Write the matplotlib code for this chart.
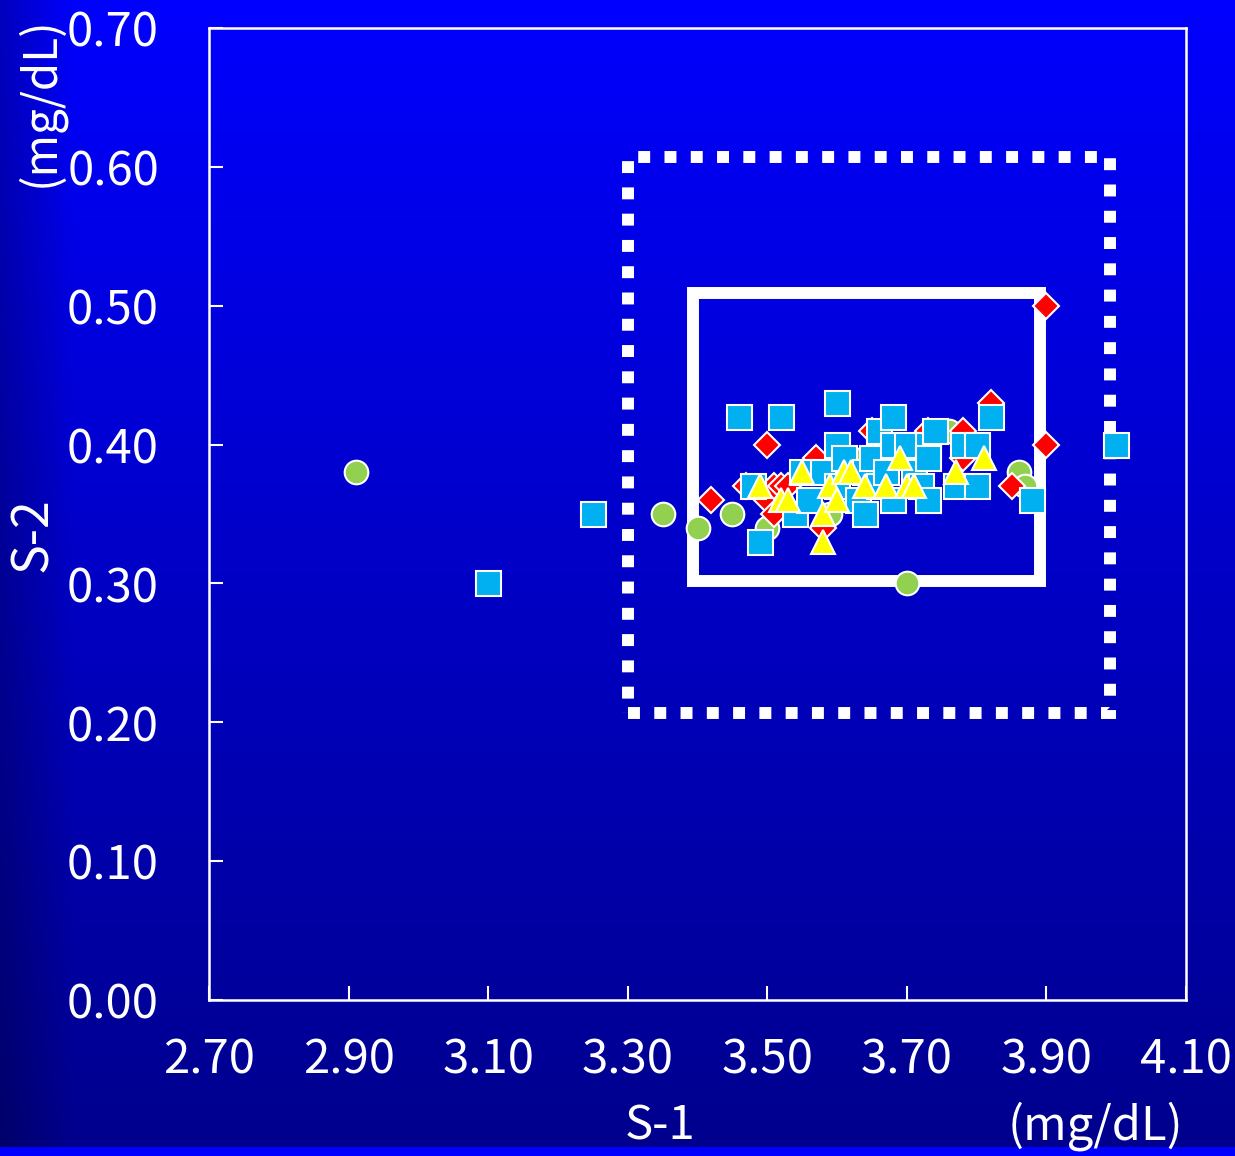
import numpy as np
import matplotlib
matplotlib.use("Agg")
import matplotlib.pyplot as plt
from matplotlib.patches import Rectangle

plt.rcParams['font.family'] = ['Noto Sans CJK JP', 'DejaVu Sans']

# data (S-1, S-2 in mg/dL)
green_x = [2.91, 3.35, 3.40, 3.45, 3.50, 3.59, 3.64, 3.70, 3.76, 3.86, 3.87]
green_y = [0.38, 0.35, 0.34, 0.35, 0.34, 0.35, 0.39, 0.30, 0.41, 0.38, 0.37]

red_x = [3.42, 3.47, 3.50, 3.50, 3.51, 3.51, 3.52, 3.53, 3.57, 3.58, 3.65,
         3.73, 3.78, 3.78, 3.82, 3.85, 3.90, 3.90]
red_y = [0.36, 0.37, 0.40, 0.36, 0.37, 0.35, 0.37, 0.37, 0.39, 0.34, 0.41,
         0.41, 0.41, 0.39, 0.43, 0.37, 0.50, 0.40]

cyan_x = [3.10, 3.25, 3.46, 3.48, 3.49, 3.52, 3.54, 3.55, 3.56, 3.58, 3.60,
          3.60, 3.60, 3.61, 3.63, 3.64, 3.64, 3.65, 3.66, 3.66, 3.67, 3.68,
          3.68, 3.68, 3.70, 3.71, 3.72, 3.73, 3.73, 3.73, 3.74, 3.77, 3.78,
          3.80, 3.80, 3.82, 3.88, 4.00]
cyan_y = [0.30, 0.35, 0.42, 0.37, 0.33, 0.42, 0.35, 0.38, 0.36, 0.38, 0.43,
          0.40, 0.37, 0.39, 0.36, 0.38, 0.35, 0.39, 0.41, 0.37, 0.38, 0.42,
          0.40, 0.36, 0.40, 0.38, 0.37, 0.40, 0.39, 0.36, 0.41, 0.37, 0.40,
          0.40, 0.37, 0.42, 0.36, 0.40]

yellow_x = [3.49, 3.52, 3.53, 3.55, 3.58, 3.58, 3.59, 3.60, 3.61, 3.62, 3.64,
            3.67, 3.69, 3.70, 3.71, 3.77, 3.81]
yellow_y = [0.37, 0.36, 0.36, 0.38, 0.35, 0.33, 0.37, 0.36, 0.38, 0.38, 0.37,
            0.37, 0.39, 0.37, 0.37, 0.38, 0.39]

x_ticks = [2.70, 2.90, 3.10, 3.30, 3.50, 3.70, 3.90, 4.10]
y_ticks = [0.00, 0.10, 0.20, 0.30, 0.40, 0.50, 0.60, 0.70]

# reference ranges drawn as boxes
inner_box = (3.393, 0.302, 3.891, 0.509)
outer_box = (3.300, 0.207, 3.991, 0.607)

W, H = 1235, 1156
fig = plt.figure(figsize=(W / 100, H / 100), dpi=100)

# blue gradient background
bg = fig.add_axes([0, 0, 1, 1], zorder=-10)
rows = np.linspace(0, 1, H)[:, None]
cols = np.linspace(0, 1, W)[None, :]
blue = 255 - 115 * rows
blue = blue * (0.75 + 0.25 * np.clip(cols / 0.06, 0, 1))
blue[1147:, :] = 255
img = np.zeros((H, W, 3))
img[..., 2] = blue / 255
bg.imshow(img, aspect='auto', extent=[0, 1, 0, 1], origin='upper')
bg.axis('off')

ax = fig.add_axes([209 / W, 1 - 1000 / H, 977 / W, 972 / H])
ax.set_facecolor('none')

ax.add_patch(Rectangle((outer_box[0], outer_box[1]), outer_box[2] - outer_box[0],
                       outer_box[3] - outer_box[1], fill=False, edgecolor='white',
                       linewidth=8.6, linestyle=(0, (1, 1.2)), capstyle='butt',
                       joinstyle='miter', zorder=2))
ax.add_patch(Rectangle((inner_box[0], inner_box[1]), inner_box[2] - inner_box[0],
                       inner_box[3] - inner_box[1], fill=False, edgecolor='white',
                       linewidth=8.6, joinstyle='miter', zorder=2))

mk = dict(linestyle='none', markeredgecolor='white', markeredgewidth=1.5)
ax.plot(green_x, green_y, 'o', color='#92D050', markersize=17, zorder=3, **mk)
ax.plot(red_x, red_y, 'D', color='#FF0000', markersize=13, zorder=4, **mk)
ax.plot(cyan_x, cyan_y, 's', color='#00B0F0', markersize=18, zorder=5, **mk)
ax.plot(yellow_x, yellow_y, '^', color='#FFFF00', markersize=17, zorder=6, **mk)

ax.set_xlim(2.70, 4.10)
ax.set_ylim(0.00, 0.70)
ax.set_xticks(x_ticks)
ax.set_yticks(y_ticks)
ax.set_xticklabels([f'{v:.2f}' for v in x_ticks])
ax.set_yticklabels([f'{v:.2f}' for v in y_ticks])
ax.tick_params(direction='in', length=10, width=1.5, colors='white',
               labelsize=34)
ax.tick_params(axis='y', pad=36)
ax.tick_params(axis='x', pad=26)
for s in ax.spines.values():
    s.set_color('white')
    s.set_linewidth(1.8)

fig.text(660 / W, 1 - 1126 / H, 'S-1', color='white', fontsize=34,
         ha='center', va='center')
fig.text(1095 / W, 1 - 1126 / H, '(mg/dL)', color='white', fontsize=34,
         ha='center', va='center')
fig.text(33 / W, 1 - 535 / H, 'S-2', color='white', fontsize=36,
         ha='center', va='center', rotation=90)
fig.text(40 / W, 1 - 102 / H, '(mg/dL)', color='white', fontsize=33,
         ha='center', va='center', rotation=90)

fig.savefig('out.png', dpi=100)
